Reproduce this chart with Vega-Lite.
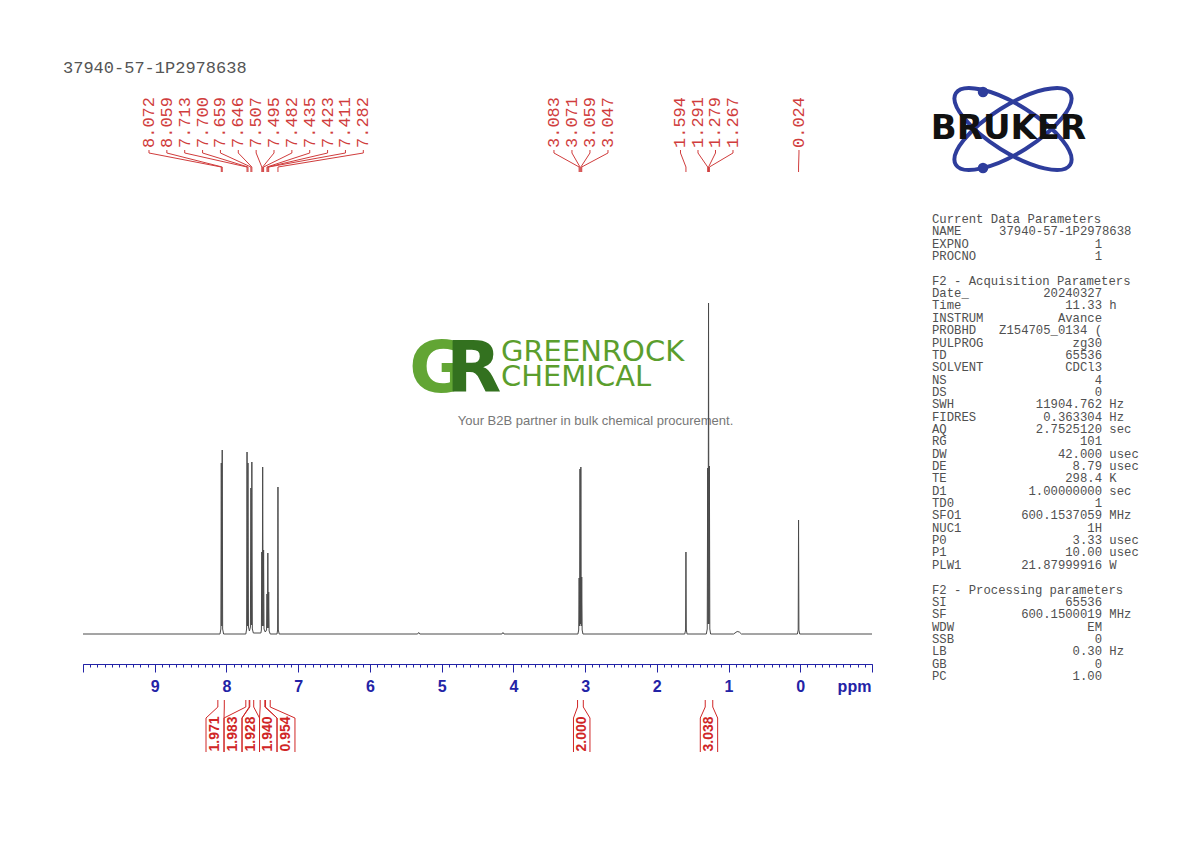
{
  "$schema": "https://vega.github.io/schema/vega-lite/v6.json",
  "background": "white",
  "autosize": {"type": "pad"},
  "padding": {"left": 62, "top": 59, "right": 10, "bottom": 10},
  "bounds": "flush",
  "spacing": 29,
  "config": {"view": {"stroke": null}, "axis": {"grid": false}},
  "datasets": {
    "spectrum": [
      {"ppm": 10.0, "intensity": 0},
      {"ppm": 8.09, "intensity": 0},
      {"ppm": 8.078, "intensity": 5},
      {"ppm": 8.072, "intensity": 171},
      {"ppm": 8.0655, "intensity": 8},
      {"ppm": 8.059, "intensity": 184},
      {"ppm": 8.053, "intensity": 5},
      {"ppm": 8.04, "intensity": 0},
      {"ppm": 7.73, "intensity": 0},
      {"ppm": 7.719, "intensity": 5},
      {"ppm": 7.713, "intensity": 182},
      {"ppm": 7.7065, "intensity": 8},
      {"ppm": 7.7, "intensity": 171},
      {"ppm": 7.693, "intensity": 7},
      {"ppm": 7.68, "intensity": 3},
      {"ppm": 7.666, "intensity": 7},
      {"ppm": 7.659, "intensity": 146},
      {"ppm": 7.6525, "intensity": 9},
      {"ppm": 7.646, "intensity": 172},
      {"ppm": 7.639, "intensity": 5},
      {"ppm": 7.625, "intensity": 1},
      {"ppm": 7.52, "intensity": 1},
      {"ppm": 7.513, "intensity": 4},
      {"ppm": 7.507, "intensity": 82},
      {"ppm": 7.501, "intensity": 8},
      {"ppm": 7.495, "intensity": 167},
      {"ppm": 7.4885, "intensity": 8},
      {"ppm": 7.482, "intensity": 84},
      {"ppm": 7.476, "intensity": 5},
      {"ppm": 7.459, "intensity": 2},
      {"ppm": 7.441, "intensity": 4},
      {"ppm": 7.435, "intensity": 40},
      {"ppm": 7.429, "intensity": 6},
      {"ppm": 7.423, "intensity": 81},
      {"ppm": 7.417, "intensity": 6},
      {"ppm": 7.411, "intensity": 42},
      {"ppm": 7.405, "intensity": 3},
      {"ppm": 7.39, "intensity": 0},
      {"ppm": 7.295, "intensity": 0},
      {"ppm": 7.287, "intensity": 4},
      {"ppm": 7.282, "intensity": 147},
      {"ppm": 7.277, "intensity": 4},
      {"ppm": 7.265, "intensity": 0},
      {"ppm": 5.335, "intensity": 0},
      {"ppm": 5.32, "intensity": 1.5},
      {"ppm": 5.305, "intensity": 0},
      {"ppm": 4.16, "intensity": 0},
      {"ppm": 4.145, "intensity": 1.5},
      {"ppm": 4.13, "intensity": 0},
      {"ppm": 3.1, "intensity": 0},
      {"ppm": 3.089, "intensity": 4},
      {"ppm": 3.083, "intensity": 56},
      {"ppm": 3.077, "intensity": 8},
      {"ppm": 3.071, "intensity": 165},
      {"ppm": 3.065, "intensity": 10},
      {"ppm": 3.059, "intensity": 167},
      {"ppm": 3.053, "intensity": 8},
      {"ppm": 3.047, "intensity": 57},
      {"ppm": 3.041, "intensity": 4},
      {"ppm": 3.03, "intensity": 0},
      {"ppm": 1.61, "intensity": 0},
      {"ppm": 1.599, "intensity": 4},
      {"ppm": 1.594, "intensity": 82},
      {"ppm": 1.589, "intensity": 4},
      {"ppm": 1.578, "intensity": 0},
      {"ppm": 1.31, "intensity": 0},
      {"ppm": 1.297, "intensity": 5},
      {"ppm": 1.291, "intensity": 166},
      {"ppm": 1.285, "intensity": 10},
      {"ppm": 1.279, "intensity": 331},
      {"ppm": 1.273, "intensity": 10},
      {"ppm": 1.267, "intensity": 168},
      {"ppm": 1.261, "intensity": 5},
      {"ppm": 1.25, "intensity": 0},
      {"ppm": 0.93, "intensity": 0},
      {"ppm": 0.88, "intensity": 2.5},
      {"ppm": 0.85, "intensity": 2},
      {"ppm": 0.82, "intensity": 0},
      {"ppm": 0.04, "intensity": 0},
      {"ppm": 0.029, "intensity": 4},
      {"ppm": 0.024, "intensity": 114},
      {"ppm": 0.019, "intensity": 4},
      {"ppm": 0.008, "intensity": 0},
      {"ppm": -1.0, "intensity": 0}
    ],
    "peaks": [
      {"peak": 8.072, "lab": 9.080, "text": "8.072"},
      {"peak": 8.059, "lab": 8.831, "text": "8.059"},
      {"peak": 7.713, "lab": 8.582, "text": "7.713"},
      {"peak": 7.700, "lab": 8.333, "text": "7.700"},
      {"peak": 7.659, "lab": 8.084, "text": "7.659"},
      {"peak": 7.646, "lab": 7.835, "text": "7.646"},
      {"peak": 7.507, "lab": 7.586, "text": "7.507"},
      {"peak": 7.495, "lab": 7.337, "text": "7.495"},
      {"peak": 7.482, "lab": 7.088, "text": "7.482"},
      {"peak": 7.435, "lab": 6.839, "text": "7.435"},
      {"peak": 7.423, "lab": 6.590, "text": "7.423"},
      {"peak": 7.411, "lab": 6.341, "text": "7.411"},
      {"peak": 7.282, "lab": 6.092, "text": "7.282"},
      {"peak": 3.083, "lab": 3.434, "text": "3.083"},
      {"peak": 3.071, "lab": 3.183, "text": "3.071"},
      {"peak": 3.059, "lab": 2.932, "text": "3.059"},
      {"peak": 3.047, "lab": 2.681, "text": "3.047"},
      {"peak": 1.594, "lab": 1.670, "text": "1.594"},
      {"peak": 1.291, "lab": 1.426, "text": "1.291"},
      {"peak": 1.279, "lab": 1.182, "text": "1.279"},
      {"peak": 1.267, "lab": 0.938, "text": "1.267"},
      {"peak": 0.024, "lab": 0.018, "text": "0.024"}
    ],
    "integralSides": [
      {"edge": 8.12, "box": 8.285},
      {"edge": 8.03, "box": 8.034},
      {"edge": 7.73, "box": 8.034},
      {"edge": 7.683, "box": 7.783},
      {"edge": 7.675, "box": 7.783},
      {"edge": 7.62, "box": 7.539},
      {"edge": 7.53, "box": 7.539},
      {"edge": 7.465, "box": 7.295},
      {"edge": 7.455, "box": 7.295},
      {"edge": 7.39, "box": 7.045},
      {"edge": 3.105, "box": 3.162},
      {"edge": 3.025, "box": 2.932},
      {"edge": 1.325, "box": 1.394},
      {"edge": 1.22, "box": 1.152}
    ],
    "integrals": [
      {"mid": 8.160, "value": "1.971"},
      {"mid": 7.909, "value": "1.983"},
      {"mid": 7.661, "value": "1.928"},
      {"mid": 7.417, "value": "1.940"},
      {"mid": 7.170, "value": "0.954"},
      {"mid": 3.047, "value": "2.000"},
      {"mid": 1.273, "value": "3.038"}
    ],
    "params": [
      {"line": 0, "key": "Current Data Parameters", "value": "", "unit": ""},
      {"line": 1, "key": "NAME", "value": "37940-57-1P2978638", "unit": ""},
      {"line": 2, "key": "EXPNO", "value": "1", "unit": ""},
      {"line": 3, "key": "PROCNO", "value": "1", "unit": ""},
      {"line": 5, "key": "F2 - Acquisition Parameters", "value": "", "unit": ""},
      {"line": 6, "key": "Date_", "value": "20240327", "unit": ""},
      {"line": 7, "key": "Time", "value": "11.33", "unit": "h"},
      {"line": 8, "key": "INSTRUM", "value": "Avance", "unit": ""},
      {"line": 9, "key": "PROBHD", "value": "Z154705_0134 (", "unit": ""},
      {"line": 10, "key": "PULPROG", "value": "zg30", "unit": ""},
      {"line": 11, "key": "TD", "value": "65536", "unit": ""},
      {"line": 12, "key": "SOLVENT", "value": "CDCl3", "unit": ""},
      {"line": 13, "key": "NS", "value": "4", "unit": ""},
      {"line": 14, "key": "DS", "value": "0", "unit": ""},
      {"line": 15, "key": "SWH", "value": "11904.762", "unit": "Hz"},
      {"line": 16, "key": "FIDRES", "value": "0.363304", "unit": "Hz"},
      {"line": 17, "key": "AQ", "value": "2.7525120", "unit": "sec"},
      {"line": 18, "key": "RG", "value": "101", "unit": ""},
      {"line": 19, "key": "DW", "value": "42.000", "unit": "usec"},
      {"line": 20, "key": "DE", "value": "8.79", "unit": "usec"},
      {"line": 21, "key": "TE", "value": "298.4", "unit": "K"},
      {"line": 22, "key": "D1", "value": "1.00000000", "unit": "sec"},
      {"line": 23, "key": "TD0", "value": "1", "unit": ""},
      {"line": 24, "key": "SFO1", "value": "600.1537059", "unit": "MHz"},
      {"line": 25, "key": "NUC1", "value": "1H", "unit": ""},
      {"line": 26, "key": "P0", "value": "3.33", "unit": "usec"},
      {"line": 27, "key": "P1", "value": "10.00", "unit": "usec"},
      {"line": 28, "key": "PLW1", "value": "21.87999916", "unit": "W"},
      {"line": 30, "key": "F2 - Processing parameters", "value": "", "unit": ""},
      {"line": 31, "key": "SI", "value": "65536", "unit": ""},
      {"line": 32, "key": "SF", "value": "600.1500019", "unit": "MHz"},
      {"line": 33, "key": "WDW", "value": "EM", "unit": ""},
      {"line": 34, "key": "SSB", "value": "0", "unit": ""},
      {"line": 35, "key": "LB", "value": "0.30", "unit": "Hz"},
      {"line": 36, "key": "GB", "value": "0", "unit": ""},
      {"line": 37, "key": "PC", "value": "1.00", "unit": ""}
    ]
  },
  "hconcat": [
    {
      "width": 789,
      "height": 574,
      "resolve": {"axis": {"x": "independent"}},
      "layer": [
        {
          "data": {"values": [{}]},
          "mark": {"type": "text", "text": "G", "font": "DejaVu Sans", "fontWeight": "bold", "fontSize": 72, "color": "#62a534", "align": "left", "baseline": "alphabetic"},
          "encoding": {
            "x": {"datum": 5.455, "type": "quantitative", "scale": {"domain": [10, -1], "nice": false, "zero": false}, "axis": null},
            "y": {"datum": 242, "type": "quantitative", "scale": {"domain": [-30, 544], "nice": false, "zero": false}, "axis": null}
          }
        },
        {
          "data": {"values": [{}]},
          "mark": {"type": "text", "text": "R", "font": "DejaVu Sans", "fontWeight": "bold", "fontSize": 72, "color": "#33711f", "align": "left", "baseline": "alphabetic"},
          "encoding": {
            "x": {"datum": 4.94, "type": "quantitative", "axis": null},
            "y": {"datum": 242, "type": "quantitative", "axis": null}
          }
        },
        {
          "data": {"values": [{}]},
          "mark": {"type": "text", "text": "GREENROCK", "font": "DejaVu Sans", "fontSize": 29, "color": "#5b9e2d", "align": "left", "baseline": "alphabetic"},
          "encoding": {
            "x": {"datum": 4.173, "type": "quantitative", "axis": null},
            "y": {"datum": 273, "type": "quantitative", "axis": null}
          }
        },
        {
          "data": {"values": [{}]},
          "mark": {"type": "text", "text": "CHEMICAL", "font": "DejaVu Sans", "fontSize": 29, "color": "#5b9e2d", "align": "left", "baseline": "alphabetic"},
          "encoding": {
            "x": {"datum": 4.173, "type": "quantitative", "axis": null},
            "y": {"datum": 248, "type": "quantitative", "axis": null}
          }
        },
        {
          "data": {"values": [{}]},
          "mark": {"type": "text", "text": "Your B2B partner in bulk chemical procurement.", "font": "Liberation Sans", "fontSize": 13, "color": "#777777", "align": "center", "baseline": "middle"},
          "encoding": {
            "x": {"datum": 2.855, "type": "quantitative", "axis": null},
            "y": {"datum": 213, "type": "quantitative", "axis": null}
          }
        },
        {
          "data": {"values": [{}]},
          "mark": {"type": "text", "text": "37940-57-1P2978638", "font": "Liberation Mono", "fontSize": 17, "color": "#555555", "align": "left", "baseline": "middle"},
          "encoding": {
            "x": {"datum": 10.279, "type": "quantitative", "axis": null},
            "y": {"datum": 566, "type": "quantitative", "axis": null}
          }
        },
        {
          "data": {"name": "spectrum"},
          "mark": {"type": "line", "color": "#4a4a4a", "strokeWidth": 1},
          "encoding": {
            "x": {
              "field": "ppm", "type": "quantitative",
              "scale": {"domain": [10, -1], "nice": false, "zero": false},
              "axis": {"orient": "bottom", "title": null, "labels": false, "tickCount": 110, "tickSize": 3, "tickWidth": 1, "tickColor": "#2323a6", "domainColor": "#2323a6", "domainWidth": 1}
            },
            "y": {"field": "intensity", "type": "quantitative", "scale": {"domain": [-30, 544], "nice": false, "zero": false}, "axis": null}
          }
        },
        {
          "data": {"name": "peaks"},
          "mark": {"type": "text", "font": "Liberation Mono", "fontSize": 17, "color": "#d03c3c", "angle": 270, "align": "left", "baseline": "middle"},
          "encoding": {
            "x": {
              "field": "lab", "type": "quantitative",
              "axis": {
                "orient": "bottom",
                "values": [10, 9, 8, 7, 6, 5, 4, 3, 2, 1, 0, -1],
                "labelExpr": "datum.value >= 0 && datum.value <= 9 ? datum.label : ''",
                "tickSize": 8, "tickWidth": 1, "tickColor": "#2323a6", "domain": false,
                "labelFont": "Liberation Sans", "labelFontSize": 16, "labelFontWeight": "bold", "labelColor": "#2323a6", "labelPadding": 6,
                "title": "ppm", "titleX": 771, "titleY": 27, "titleAlign": "center", "titleBaseline": "alphabetic",
                "titleFont": "Liberation Sans", "titleFontSize": 16, "titleFontWeight": "bold", "titleColor": "#2323a6"
              }
            },
            "y": {"datum": 486, "type": "quantitative", "axis": null},
            "text": {"field": "text"}
          }
        },
        {
          "data": {"name": "peaks"},
          "mark": {"type": "rule", "color": "#d03c3c", "strokeWidth": 1},
          "encoding": {
            "x": {"field": "lab", "type": "quantitative", "axis": null},
            "y": {"datum": 484, "type": "quantitative", "axis": null},
            "y2": {"datum": 481}
          }
        },
        {
          "data": {"name": "peaks"},
          "mark": {"type": "rule", "color": "#d03c3c", "strokeWidth": 1},
          "encoding": {
            "x": {"field": "lab", "type": "quantitative", "axis": null},
            "x2": {"field": "peak"},
            "y": {"datum": 481, "type": "quantitative", "axis": null},
            "y2": {"datum": 467}
          }
        },
        {
          "data": {"name": "peaks"},
          "mark": {"type": "rule", "color": "#d03c3c", "strokeWidth": 1},
          "encoding": {
            "x": {"field": "peak", "type": "quantitative", "axis": null},
            "y": {"datum": 467, "type": "quantitative", "axis": null},
            "y2": {"datum": 462}
          }
        },
        {
          "data": {"name": "integralSides"},
          "mark": {"type": "rule", "color": "#d02626", "strokeWidth": 1},
          "encoding": {
            "x": {"field": "edge", "type": "quantitative", "axis": null},
            "y": {"datum": -66, "type": "quantitative", "axis": null},
            "y2": {"datum": -73}
          }
        },
        {
          "data": {"name": "integralSides"},
          "mark": {"type": "rule", "color": "#d02626", "strokeWidth": 1},
          "encoding": {
            "x": {"field": "edge", "type": "quantitative", "axis": null},
            "x2": {"field": "box"},
            "y": {"datum": -73, "type": "quantitative", "axis": null},
            "y2": {"datum": -84}
          }
        },
        {
          "data": {"name": "integralSides"},
          "mark": {"type": "rule", "color": "#d02626", "strokeWidth": 1},
          "encoding": {
            "x": {"field": "box", "type": "quantitative", "axis": null},
            "y": {"datum": -84, "type": "quantitative", "axis": null},
            "y2": {"datum": -118}
          }
        },
        {
          "data": {"name": "integrals"},
          "mark": {"type": "text", "font": "Liberation Sans", "fontWeight": "bold", "fontSize": 14, "color": "#d02626", "angle": 270, "align": "center", "baseline": "middle"},
          "encoding": {
            "x": {"field": "mid", "type": "quantitative", "axis": null},
            "y": {"datum": -100, "type": "quantitative", "axis": null},
            "text": {"field": "value"}
          }
        }
      ]
    },
    {
      "width": 240,
      "height": 600,
      "layer": [
        {
          "data": {"values": [{}]},
          "mark": {
            "type": "point",
            "shape": "M -0.848 -0.53 A 1 0.35 32 1 1 0.848 0.53 A 1 0.35 32 1 1 -0.848 -0.53 Z M -0.848 0.53 A 1 0.35 -32 1 1 0.848 -0.53 A 1 0.35 -32 1 1 -0.848 0.53 Z",
            "size": 18170, "filled": false, "color": "#2e3d9c", "strokeWidth": 4, "opacity": 1
          },
          "encoding": {
            "x": {"datum": 11.02, "type": "quantitative", "scale": {"domain": [-4.218, 28.435], "nice": false, "zero": false}, "axis": null},
            "y": {"datum": -7.29, "type": "quantitative", "scale": {"domain": [-10.445, 38.135], "nice": false, "zero": false, "reverse": true}, "axis": null}
          }
        },
        {
          "data": {"values": [{}]},
          "mark": {"type": "point", "shape": "circle", "size": 110, "filled": true, "color": "#2e3d9c", "opacity": 1},
          "encoding": {
            "x": {"datum": 6.94, "type": "quantitative", "axis": null},
            "y": {"datum": -10.28, "type": "quantitative", "axis": null}
          }
        },
        {
          "data": {"values": [{}]},
          "mark": {"type": "point", "shape": "circle", "size": 110, "filled": true, "color": "#2e3d9c", "opacity": 1},
          "encoding": {
            "x": {"datum": 6.94, "type": "quantitative", "axis": null},
            "y": {"datum": -4.13, "type": "quantitative", "axis": null}
          }
        },
        {
          "data": {"values": [{}]},
          "mark": {"type": "text", "text": "BRUKER", "font": "DejaVu Sans", "fontWeight": "bold", "fontSize": 34, "color": "#111111", "align": "center", "baseline": "middle"},
          "encoding": {
            "x": {"datum": 10.41, "type": "quantitative", "axis": null},
            "y": {"datum": -7.25, "type": "quantitative", "axis": null}
          }
        },
        {
          "data": {"name": "params"},
          "mark": {"type": "text", "font": "Liberation Mono", "fontSize": 12.25, "color": "#505050", "align": "left", "baseline": "middle"},
          "encoding": {
            "x": {"datum": 0, "type": "quantitative", "axis": null},
            "y": {"field": "line", "type": "quantitative", "axis": null},
            "text": {"field": "key"}
          }
        },
        {
          "data": {"name": "params"},
          "transform": [{"filter": "datum.key !== 'NAME'"}],
          "mark": {"type": "text", "font": "Liberation Mono", "fontSize": 12.25, "color": "#505050", "align": "right", "baseline": "middle"},
          "encoding": {
            "x": {"datum": 23.13, "type": "quantitative", "axis": null},
            "y": {"field": "line", "type": "quantitative", "axis": null},
            "text": {"field": "value"}
          }
        },
        {
          "data": {"name": "params"},
          "transform": [{"filter": "datum.key === 'NAME'"}],
          "mark": {"type": "text", "font": "Liberation Mono", "fontSize": 12.25, "color": "#505050", "align": "right", "baseline": "middle"},
          "encoding": {
            "x": {"datum": 27.13, "type": "quantitative", "axis": null},
            "y": {"field": "line", "type": "quantitative", "axis": null},
            "text": {"field": "value"}
          }
        },
        {
          "data": {"name": "params"},
          "mark": {"type": "text", "font": "Liberation Mono", "fontSize": 12.25, "color": "#505050", "align": "left", "baseline": "middle"},
          "encoding": {
            "x": {"datum": 24.13, "type": "quantitative", "axis": null},
            "y": {"field": "line", "type": "quantitative", "axis": null},
            "text": {"field": "unit"}
          }
        }
      ]
    }
  ]
}
